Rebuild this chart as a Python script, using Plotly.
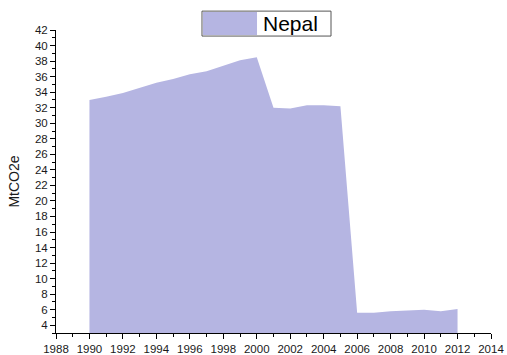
import plotly.graph_objects as go

# Nepal emissions, MtCO2e
years = list(range(1990, 2013))
emissions = [33.0, 33.4, 33.9, 34.6, 35.2, 35.7, 36.3, 36.7, 37.4, 38.1, 38.5,
             32.0, 31.9, 32.3, 32.3, 32.2, 5.6, 5.6, 5.8, 5.9, 6.0, 5.8, 6.1]
series_name = "Nepal"

FILL = "#b5b5e2"

fig = go.Figure(go.Scatter(
    x=years, y=emissions, mode="lines", fill="tozeroy",
    line=dict(width=0, color=FILL), fillcolor=FILL,
    name=series_name, showlegend=False,
))

# legend box drawn by hand to match the oversized Origin-style swatch
fig.add_shape(type="rect", xref="paper", yref="paper",
              x0=0.3356, x1=0.6322, y0=0.9800, y1=1.0623,
              line=dict(color="#555555", width=1), fillcolor="white", layer="above")
fig.add_shape(type="rect", xref="paper", yref="paper",
              x0=0.3379, x1=0.4621, y0=0.9836, y1=1.0590,
              line=dict(width=0), fillcolor=FILL, layer="above")
fig.add_annotation(text=series_name, xref="paper", yref="paper",
                   x=0.4713, y=1.021, xanchor="left", yanchor="middle",
                   showarrow=False, font=dict(size=21, color="black"))

axis_font = dict(family="Arial, Liberation Sans, sans-serif", size=11.5, color="#1a1a1a")
fig.update_xaxes(
    range=[1988, 2014], tick0=1988, dtick=2, ticks="outside", ticklen=5,
    showgrid=False, zeroline=False, showline=True, linecolor="black", linewidth=1,
    tickfont=axis_font, tickcolor="black", automargin=False,
    minor=dict(dtick=1, ticks="outside", ticklen=3, tickcolor="black"),
)
fig.update_yaxes(
    range=[3, 42], tick0=4, dtick=2, ticks="outside", ticklen=5,
    showgrid=False, zeroline=False, showline=True, linecolor="black", linewidth=1,
    tickfont=axis_font, tickcolor="black", automargin=False,
    minor=dict(dtick=1, ticks="outside", ticklen=3, tickcolor="black"),
    title=dict(text="MtCO2e", font=dict(family="Arial, Liberation Sans, sans-serif", size=14, color="#1a1a1a"), standoff=12),
)
fig.update_layout(
    width=507, height=355,
    margin=dict(l=56, r=16, t=30, b=22),
    plot_bgcolor="white", paper_bgcolor="white",
    font=axis_font,
)

# drop the default body margin and scrollbars so the figure fills the window
fig.write_html(
    "out.html",
    config={"displayModeBar": False},
    post_script="document.body.style.margin='0';"
                "document.documentElement.style.overflow='hidden';",
)
